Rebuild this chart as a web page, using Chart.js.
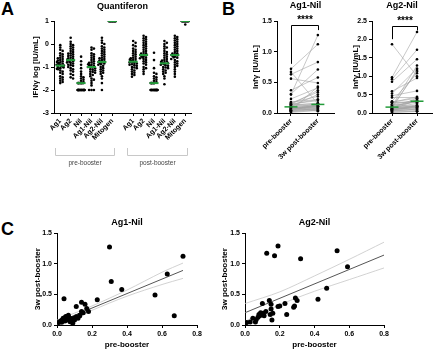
<!DOCTYPE html>
<html>
<head>
<meta charset="utf-8">
<script src="https://cdn.jsdelivr.net/npm/chart.js@4.4.0/dist/chart.umd.min.js"></script>
<style>
  body { margin: 0; background: #fff; width: 440px; height: 351px; position: relative; overflow: hidden; font-family: "Liberation Sans", Arial, sans-serif; }
  canvas { position: absolute; }
  .letter { position: absolute; font-weight: bold; font-size: 18px; line-height: 18px; }
</style>
</head>
<body>
<div class="letter" style="left:1px;top:0px">A</div>
<div class="letter" style="left:222px;top:0px">B</div>
<div class="letter" style="left:1px;top:220px">C</div>
<canvas id="qft" width="200" height="180" style="left:0;top:0"></canvas>
<canvas id="ag1Pair" width="120" height="180" style="left:222px;top:0"></canvas>
<canvas id="ag2Pair" width="98" height="180" style="left:342px;top:0"></canvas>
<canvas id="ag1Corr" width="215" height="146" style="left:0;top:205px"></canvas>
<canvas id="ag2Corr" width="220" height="146" style="left:220px;top:205px"></canvas>
<script>
// ---- panel A: Quantiferon, log10 IFNy ----
const qftCategories = ['Ag1', 'Ag2', 'Nil', 'Ag1-Nil', 'Ag2-Nil', 'Mitogen', '', 'Ag1', 'Ag2', 'Nil', 'Ag1-Nil', 'Ag2-Nil', 'Mitogen'];
const qftGroups = ['pre-booster', 'post-booster'];

const preAg1 = [-0.05, -0.15, -0.25, -0.3, -0.4, -0.45, -0.5, -0.55, -0.6, -0.62, -0.65, -0.7, -0.72, -0.75, -0.78, -0.8, -0.82, -0.85, -0.88, -0.9, -0.92, -0.94, -0.95, -0.98, -1.0, -1.02, -1.05, -1.08, -1.1, -1.15, -1.2, -1.25, -1.3, -1.4, -1.45, -1.5, -1.55, -1.6, -1.65, -1.7];
const preAg2 = [0.27, 0.1, 0.0, -0.05, -0.1, -0.15, -0.2, -0.25, -0.3, -0.35, -0.4, -0.42, -0.45, -0.5, -0.52, -0.55, -0.6, -0.62, -0.65, -0.68, -0.7, -0.72, -0.75, -0.78, -0.8, -0.82, -0.85, -0.9, -0.92, -0.95, -1.0, -1.05, -1.1, -1.15, -1.2, -1.3, -1.35, -1.45, -1.5];
const preNil = [-0.55, -0.75, -0.9, -1.05, -1.2, -1.3, -1.4, -1.45, -1.5, -1.55, -1.6, -1.65, -1.7, -1.7, -1.7, -1.7, -1.7, -1.7, -1.7, -1.7, -2, -2, -2, -2, -2, -2, -2, -2, -2, -2, -2, -2, -2, -2, -2, -2, -2, -2, -2, -2];
const preAg1Nil = [-0.15, -0.2, -0.25, -0.4, -0.45, -0.5, -0.55, -0.6, -0.65, -0.7, -0.75, -0.8, -0.82, -0.85, -0.88, -0.9, -0.92, -0.95, -0.98, -1.0, -1.0, -1.02, -1.05, -1.1, -1.12, -1.15, -1.2, -1.22, -1.25, -1.3, -1.35, -1.4, -1.5, -1.55, -1.6, -1.7, -1.8, -2, -2, -2];
const preAg2Nil = [0.27, 0.15, 0.05, 0.0, -0.1, -0.15, -0.2, -0.25, -0.3, -0.35, -0.4, -0.45, -0.5, -0.55, -0.6, -0.62, -0.65, -0.7, -0.72, -0.75, -0.78, -0.8, -0.82, -0.85, -0.88, -0.9, -0.95, -1.0, -1.05, -1.1, -1.15, -1.2, -1.25, -1.3, -1.4, -1.5, -1.7, -2];
const preMitogen = [1, 1, 1, 1, 1, 1, 1, 1, 1, 1, 1, 1, 1, 1, 1, 1, 1, 1, 1, 1, 1, 1, 1, 1, 1, 1, 1, 1, 1, 1, 1, 1, 1, 1, 1, 1, 1, 1];

const postAg1 = [0.13, 0.05, -0.05, -0.1, -0.2, -0.25, -0.3, -0.35, -0.4, -0.45, -0.5, -0.55, -0.6, -0.62, -0.65, -0.68, -0.7, -0.72, -0.75, -0.77, -0.78, -0.8, -0.82, -0.85, -0.88, -0.9, -0.92, -0.95, -1.0, -1.02, -1.05, -1.1, -1.15, -1.2, -1.25, -1.3, -1.35, -1.42];
const postAg2 = [0.36, 0.3, 0.25, 0.2, 0.15, 0.1, 0.05, 0.0, -0.05, -0.1, -0.15, -0.2, -0.25, -0.3, -0.35, -0.4, -0.42, -0.45, -0.48, -0.5, -0.52, -0.55, -0.58, -0.6, -0.62, -0.65, -0.7, -0.75, -0.8, -0.85, -0.9, -1.0, -1.05, -1.1, -1.2, -1.3];
const postNil = [-0.38, -0.7, -1.05, -1.25, -1.3, -1.4, -1.45, -1.5, -1.55, -1.6, -1.65, -1.7, -1.7, -1.7, -1.7, -1.7, -1.7, -2, -2, -2, -2, -2, -2, -2, -2, -2, -2, -2, -2, -2, -2, -2, -2, -2, -2, -2, -2];
const postAg1Nil = [0.13, 0.05, 0.0, -0.1, -0.15, -0.2, -0.3, -0.35, -0.4, -0.45, -0.5, -0.55, -0.6, -0.65, -0.7, -0.72, -0.75, -0.78, -0.8, -0.82, -0.84, -0.86, -0.88, -0.9, -0.92, -0.95, -1.0, -1.02, -1.05, -1.1, -1.15, -1.2, -1.25, -1.3, -1.4, -1.5, -1.75];
const postAg2Nil = [0.36, 0.3, 0.25, 0.2, 0.15, 0.1, 0.05, 0.0, -0.05, -0.1, -0.15, -0.2, -0.25, -0.3, -0.35, -0.4, -0.42, -0.45, -0.48, -0.5, -0.52, -0.55, -0.58, -0.6, -0.65, -0.7, -0.75, -0.8, -0.85, -0.9, -0.95, -1.0, -1.1, -1.2, -1.3, -1.42];
const postMitogen = [1, 1, 1, 1, 1, 1, 1, 1, 1, 1, 1, 1, 1, 1, 1, 1, 1, 1, 1, 1, 1, 1, 1, 1, 1, 1, 1, 1, 1, 1, 1, 1, 1, 1, 1, 1, 1, 0.85];

const qftMedians = [-0.94, -0.7, -1.7, -1.0, -0.78, 1, null, -0.77, -0.48, -1.7, -0.84, -0.48, 1];

// ---- panels B and C: Ag-Nil, pre vs 3w post-booster (same subjects) ----
const pairLabels = ['pre-booster', '3w post-booster'];

const ag1Pre  = [0.72, 0.30, 0.63, 0.31, 0.37, 0.56, 0.67, 0.04, 0.23, 0.11, 0.14, 0.16, 0.17, 0.18, 0.14, 0.13, 0.15, 0.01, 0.02, 0.03, 0.035, 0.045, 0.055, 0.065, 0.075, 0.085, 0.095, 0.10, 0.09, 0.075, 0.11, 0.12, 0.13, 0.045, 0.06, 0.027, 0.065, 0.05];
const ag1Post = [1.12, 1.27, 0.83, 0.71, 0.58, 0.49, 0.15, 0.43, 0.41, 0.30, 0.37, 0.34, 0.27, 0.22, 0.22, 0.16, 0.20, 0.04, 0.065, 0.08, 0.11, 0.12, 0.135, 0.125, 0.11, 0.09, 0.11, 0.08, 0.03, 0.055, 0.135, 0.11, 0.15, 0.065, 0.08, 0.045, 0.16, 0.14];
const ag1Medians = [0.10, 0.14];

const ag2Pre  = [0.125, 0.19, 0.17, 0.32, 0.53, 0.59, 0.47, 0.42, 0.30, 0.29, 0.28, 0.285, 0.23, 0.24, 0.19, 0.20, 0.14, 0.15, 0.15, 0.145, 0.155, 0.10, 0.01, 0.03, 0.065, 0.075, 0.085, 0.095, 0.104, 0.11, 0.09, 0.06, 0.045, 0.08, 1.87, 0.97, 0.92, 0.85, 0.16, 0.12];
const ag2Post = [1.17, 1.29, 1.13, 1.08, 1.21, 0.95, 0.60, 0.42, 0.40, 0.44, 0.29, 0.31, 0.35, 0.17, 0.30, 0.31, 0.40, 0.34, 0.26, 0.17, 0.08, 0.35, 0.04, 0.05, 0.09, 0.125, 0.15, 0.18, 0.19, 0.15, 0.20, 0.05, 0.11, 0.17, 1.00, 2.20, 1.72, 1.46, 0.19, 0.22];
const ag2Medians = [0.16, 0.32];

const sigTop = [1.44, 2.36];

// linear fits with 95% bands
const ag1FitX = [0, 0.72];
const ag1FitY = [0.04, 0.89];
const ag1BandX = [0, 0.2, 0.4, 0.6, 0.72];
const ag1BandHi = [0.08, 0.31, 0.57, 0.86, 1.01];
const ag1BandLo = [0.0, 0.24, 0.47, 0.66, 0.76];

const ag2FitX = [0, 0.8];
const ag2FitY = [0.2, 1.14];
const ag2BandX = [0, 0.2, 0.4, 0.6, 0.8];
const ag2BandHi = [0.35, 0.54, 0.80, 1.07, 1.35];
const ag2BandLo = [0.06, 0.33, 0.55, 0.74, 0.93];

const FONT = "'Liberation Sans', Arial, sans-serif";
const GREEN = '#239b3a';

const bold = size => ({ family: FONT, size: size, weight: 'bold' });

const axisGrid = { drawOnChartArea: false, drawTicks: true, tickLength: 3, color: '#000', lineWidth: 1 };
const axisBorder = { display: true, color: '#000', width: 1 };

// titles and other loose text, drawn on the canvas
const textPlugin = {
    id: 'extraText',
    afterDraw(chart, args, opts) {
        const ctx = chart.ctx;
        const area = chart.chartArea;
        (opts.items || []).forEach(t => {
            ctx.save();
            ctx.font = t.font;
            ctx.fillStyle = t.color || '#000';
            ctx.textAlign = 'center';
            ctx.textBaseline = 'middle';
            const x = t.x === 'center' ? (area.left + area.right) / 2 : t.x;
            ctx.fillText(t.text, x, t.y);
            ctx.restore();
        });
    }
};
Chart.register(textPlugin);

// spread points of one column sideways so they don't sit on each other
function swarm(values, idx) {
    const placed = [];
    const sorted = values.slice().sort((a, b) => b - a);
    let crowd = 0;
    sorted.forEach(v => {
        const py = v * 23;
        let off = null;
        for (let k = 0; k < 7; k++) {
            const o = (k % 2 ? 1 : -1) * Math.ceil(k / 2) * 1.2;
            if (placed.every(p => Math.hypot(p.px - o, p.py - py) >= 2.2)) { off = o; break; }
        }
        if (off === null) { off = ((crowd % 7) - 3) * 1.1; crowd++; }
        placed.push({ px: off, py: py });
    });
    return sorted.map((v, i) => ({ x: idx + placed[i].px / 10.4, y: v }));
}

// ---------- A ----------
const qftColumns = [preAg1, preAg2, preNil, preAg1Nil, preAg2Nil, preMitogen, [], postAg1, postAg2, postNil, postAg1Nil, postAg2Nil, postMitogen];
const qftPoints = qftColumns.flatMap((vals, i) => swarm(vals, i));
const qftMedianPts = qftMedians.map((m, i) => ({ x: i, y: m })).filter(p => p.y !== null);

new Chart(document.getElementById('qft'), {
    type: 'scatter',
    data: {
        datasets: [
            { data: qftMedianPts, pointStyle: 'line', pointRadius: 4.5, borderColor: GREEN, borderWidth: 2 },
            { data: qftPoints, pointRadius: 1.3, backgroundColor: '#000', borderWidth: 0 }
        ]
    },
    options: {
        responsive: false, animation: false, devicePixelRatio: 1,
        layout: { padding: { top: 21, right: 9, left: 0, bottom: 0 } },
        plugins: {
            legend: { display: false }, tooltip: { enabled: false },
            extraText: { items: [{ text: 'Quantiferon', x: 'center', y: 7, font: `bold 9px ${FONT}` }] }
        },
        scales: {
            x: {
                type: 'linear', min: -0.6, max: 12.55,
                afterBuildTicks: s => { s.ticks = qftCategories.map((c, i) => ({ value: i })).filter(t => qftCategories[t.value]); },
                afterFit: s => { s.height = 67; },
                ticks: { autoSkip: false, minRotation: 45, maxRotation: 45, padding: 1, color: '#000', font: bold(7), callback: v => qftCategories[v] },
                grid: axisGrid, border: axisBorder
            },
            y: {
                min: -3, max: 1,
                afterFit: s => { s.width = 54; },
                ticks: { stepSize: 1, padding: 2, color: '#000', font: bold(7) },
                grid: axisGrid, border: axisBorder,
                title: { display: true, text: 'IFNγ log [IU/mL]', color: '#000', font: bold(8), padding: { top: 31 } }
            }
        }
    },
    plugins: [{
        id: 'groupBrackets',
        afterDraw(chart) {
            const { ctx, scales: { x } } = chart;
            ctx.save();
            ctx.strokeStyle = '#c8c8c8';
            ctx.lineWidth = 1;
            ctx.fillStyle = '#444';
            ctx.font = `6.5px ${FONT}`;
            ctx.textAlign = 'center';
            ctx.textBaseline = 'middle';
            [[0, 5], [7, 12]].forEach((span, g) => {
                const x0 = Math.round(x.getPixelForValue(span[0] - 0.55)) + 0.5;
                const x1 = Math.round(x.getPixelForValue(span[1] + 0.2)) + 0.5;
                ctx.beginPath();
                ctx.moveTo(x0, 148); ctx.lineTo(x0, 155.5); ctx.lineTo(x1, 155.5); ctx.lineTo(x1, 148);
                ctx.stroke();
                ctx.fillText(qftGroups[g], (x0 + x1) / 2, 163);
            });
            ctx.restore();
        }
    }]
});

// ---------- B ----------
function pairedChart(id, title, pre, post, medians, yMax, xMin, yWidth, titlePad, padRight, top) {
    const datasets = [{
        data: medians.map((m, i) => ({ x: i, y: m })),
        pointStyle: 'line', pointRadius: 6.5, borderColor: GREEN, borderWidth: 1.5
    }];
    pre.forEach((v, i) => {
        datasets.push({
            data: [{ x: 0, y: v }, { x: 1, y: post[i] }],
            showLine: true, borderColor: '#a2a2a2', borderWidth: 0.6,
            pointRadius: 1.3, pointBackgroundColor: '#000', pointBorderWidth: 0
        });
    });
    new Chart(document.getElementById(id), {
        type: 'scatter',
        data: { datasets: datasets },
        options: {
            responsive: false, animation: false, devicePixelRatio: 1,
            layout: { padding: { top: 21, right: padRight, left: 0, bottom: 0 } },
            plugins: {
                legend: { display: false }, tooltip: { enabled: false },
                extraText: { items: [{ text: title, x: 'center', y: 6, font: `bold 9px ${FONT}` }] }
            },
            scales: {
                x: {
                    type: 'linear', min: xMin, max: 1.6,
                    afterBuildTicks: s => { s.ticks = [{ value: 0 }, { value: 1 }]; },
                    afterFit: s => { s.height = 67; },
                    ticks: { autoSkip: false, minRotation: 45, maxRotation: 45, padding: 1, color: '#000', font: bold(7), callback: v => pairLabels[v] },
                    grid: axisGrid, border: axisBorder
                },
                y: {
                    min: 0, max: yMax,
                    afterFit: s => { s.width = yWidth; },
                    ticks: { stepSize: 0.5, padding: 2, color: '#000', font: bold(7), callback: v => v.toFixed(1) },
                    grid: axisGrid, border: axisBorder,
                    title: { display: true, text: 'Infγ [IU/mL]', color: '#000', font: bold(8), padding: { top: titlePad } }
                }
            }
        },
        plugins: [{
            id: 'sigBar',
            afterDraw(chart) {
                const { ctx, scales: { x, y } } = chart;
                const xa = Math.round(x.getPixelForValue(0)) + 0.5;
                const xb = Math.round(x.getPixelForValue(1)) + 0.5;
                const yt = Math.round(y.getPixelForValue(top)) + 0.5;
                const la = y.getPixelForValue(Math.max(...pre)) - 5;
                const lb = y.getPixelForValue(Math.max(...post)) - 5;
                ctx.save();
                ctx.strokeStyle = '#000';
                ctx.lineWidth = 1;
                ctx.beginPath();
                ctx.moveTo(xa, Math.max(la, yt + 4)); ctx.lineTo(xa, yt); ctx.lineTo(xb, yt); ctx.lineTo(xb, Math.max(lb, yt + 4));
                ctx.stroke();
                ctx.fillStyle = '#000';
                ctx.font = `bold 10px ${FONT}`;
                ctx.textAlign = 'center';
                ctx.textBaseline = 'middle';
                ctx.fillText('****', (xa + xb) / 2, yt - 5);
                ctx.restore();
            }
        }]
    });
}

pairedChart('ag1Pair', 'Ag1-Nil', ag1Pre, ag1Post, ag1Medians, 1.5, -0.52, 55, 29, 3, sigTop[0]);
pairedChart('ag2Pair', 'Ag2-Nil', ag2Pre, ag2Post, ag2Medians, 2.5, -0.8, 30, 9, 2, sigTop[1]);

// ---------- C ----------
function corrChart(id, title, pre, post, fitX, fitY, bandX, bandHi, bandLo, yWidth, titlePad, padRight) {
    const toXY = (xs, ys) => xs.map((v, i) => ({ x: v, y: ys[i] }));
    new Chart(document.getElementById(id), {
        type: 'scatter',
        data: {
            datasets: [
                { data: toXY(pre, post), pointRadius: 2.5, backgroundColor: '#000', borderWidth: 0 },
                { data: toXY(fitX, fitY), showLine: true, borderColor: '#555', borderWidth: 1, pointRadius: 0 },
                { data: toXY(bandX, bandHi), showLine: true, borderColor: '#c6c6c6', borderWidth: 0.8, pointRadius: 0, tension: 0.3 },
                { data: toXY(bandX, bandLo), showLine: true, borderColor: '#c6c6c6', borderWidth: 0.8, pointRadius: 0, tension: 0.3 }
            ]
        },
        options: {
            responsive: false, animation: false, devicePixelRatio: 1,
            layout: { padding: { top: 28, right: padRight, left: 0, bottom: 0 } },
            plugins: {
                legend: { display: false }, tooltip: { enabled: false },
                extraText: { items: [{ text: title, x: 'center', y: 18, font: `bold 9px ${FONT}` }] }
            },
            scales: {
                x: {
                    type: 'linear', min: 0, max: 0.8,
                    afterFit: s => { s.height = 26; },
                    ticks: { stepSize: 0.2, padding: 2, color: '#000', font: bold(7), callback: v => v.toFixed(1) },
                    grid: axisGrid, border: axisBorder,
                    title: { display: true, text: 'pre-booster', color: '#000', font: bold(8), padding: { bottom: 1 } }
                },
                y: {
                    min: 0, max: 1.5,
                    afterFit: s => { s.width = yWidth; },
                    ticks: { stepSize: 0.5, padding: 2, color: '#000', font: bold(7), callback: v => v.toFixed(1) },
                    grid: axisGrid, border: axisBorder,
                    title: { display: true, text: '3w post-booster', color: '#000', font: bold(8), padding: { top: titlePad } }
                }
            }
        }
    });
}

corrChart('ag1Corr', 'Ag1-Nil', ag1Pre, ag1Post, ag1FitX, ag1FitY, ag1BandX, ag1BandHi, ag1BandLo, 57, 33, 18);
corrChart('ag2Corr', 'Ag2-Nil', ag2Pre, ag2Post, ag2FitX, ag2FitY, ag2BandX, ag2BandHi, ag2BandLo, 25, 0, 56);
</script>
</body>
</html>
